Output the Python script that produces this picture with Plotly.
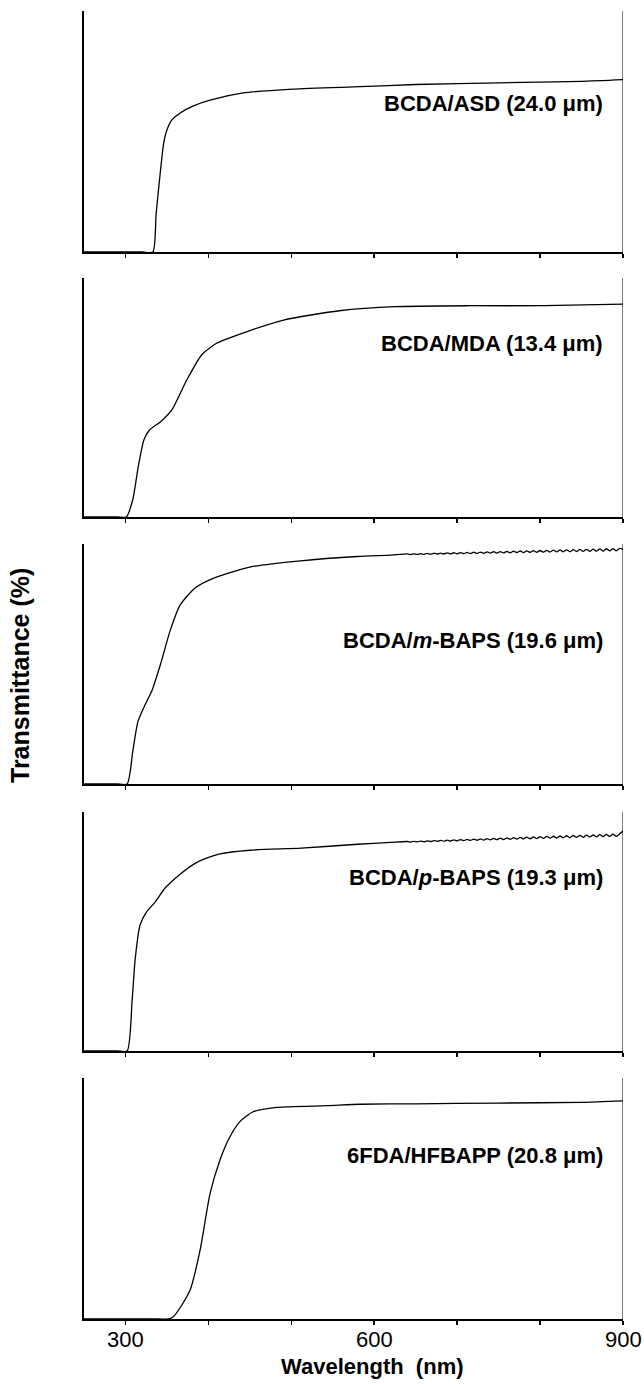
import plotly.graph_objects as go

# ---------------- data ----------------
labels = ["BCDA/ASD (24.0 μm)", "BCDA/MDA (13.4 μm)", "BCDA/<i>m</i>-BAPS (19.6 μm)",
          "BCDA/<i>p</i>-BAPS (19.3 μm)", "6FDA/HFBAPP (20.8 μm)"]

wl1 = [250, 320, 333, 337, 342, 346, 350, 356, 366, 382, 402, 442, 502, 583, 650, 750, 850, 900]
T1 = [0, 0, 0, 16, 33, 45, 50.6, 54.8, 57.7, 60.6, 63, 66, 67.6, 68.6, 69.5, 70.2, 70.8, 71.5]

wl2 = [250, 290, 301, 308.7, 315.4, 322.2, 329, 342.4, 355.9, 373.9, 391.8, 409.8, 445.8,
       490.7, 558, 625.5, 715.4, 805, 900]
T2 = [0, 0, 0, 7.1, 21, 32.2, 36.4, 39.9, 44.8, 57.3, 67.8, 72.7, 77.5,
      82.4, 86.3, 88, 88.4, 88.4, 89.1]

wl3 = [250, 290, 302, 309, 315, 323.6, 332, 342, 354, 366, 384, 408, 450, 511, 580, 620]
T3 = [0, 0, 0, 14, 26, 33, 39, 49.6, 64, 74.6, 81.7, 86, 90.4, 93, 94.8, 95.4]

wl4 = [250, 290, 302, 308, 311.6, 317.6, 325, 335.7, 347.8, 366, 384, 396, 414, 450, 512, 580, 620]
T4 = [0, 0, 0, 21, 38, 52.7, 58, 62.3, 68.2, 74, 78.5, 80.5, 82.5, 84, 84.9, 86.5, 87.3]

wl5 = [250, 340, 352, 358, 368, 378, 390, 402, 414, 426, 438, 454, 482.6, 543, 583, 650, 750, 850, 900]
T5 = [0, 0, 0, 1, 5.8, 12, 28.6, 52, 66, 75.6, 81.9, 86, 87.8, 88.5, 89.1, 89.3, 89.6, 89.9, 90.5]

# interference fringes (long-wavelength part of panels 3 and 4)
wl_fr = [640, 644, 648, 652, 656, 660, 664, 668, 672, 676, 680, 684, 688, 692, 696, 700,
         704, 708, 712, 716, 720, 724, 728, 732, 736, 740, 744, 748, 752, 756, 760, 764,
         768, 772, 776, 780, 784, 788, 792, 796, 800, 804, 808, 812, 816, 820, 824, 828,
         832, 836, 840, 844, 848, 852, 856, 860, 864, 868, 872, 876, 880, 884, 888, 892,
         896, 900]
T3_fr = [95.85, 95.57, 95.92, 95.62, 95.99, 95.67, 96.06, 95.73, 96.15, 95.78, 96.22, 95.83,
         96.29, 95.88, 96.36, 95.93, 96.43, 95.98, 96.50, 96.02, 96.58, 96.08, 96.65, 96.13,
         96.72, 96.18, 96.79, 96.23, 96.86, 96.28, 96.93, 96.33, 97.01, 96.39, 97.09, 96.44,
         97.16, 96.49, 97.23, 96.54, 97.30, 96.59, 97.37, 96.64, 97.44, 96.68, 97.52, 96.74,
         97.59, 96.79, 97.66, 96.84, 97.73, 96.89, 97.80, 96.94, 97.87, 96.99, 97.95, 97.05,
         98.03, 97.10, 98.10, 97.15, 98.17, 97.80]
T4_fr = [87.65, 87.38, 87.75, 87.46, 87.85, 87.54, 87.95, 87.62, 88.06, 87.70, 88.16, 87.78,
         88.26, 87.86, 88.36, 87.94, 88.46, 88.02, 88.56, 88.09, 88.66, 88.17, 88.76, 88.25,
         88.86, 88.33, 88.95, 88.41, 89.05, 88.49, 89.15, 88.57, 89.26, 88.65, 89.36, 88.73,
         89.46, 88.81, 89.56, 88.89, 89.66, 88.97, 89.76, 89.05, 89.86, 89.12, 89.96, 89.20,
         90.06, 89.28, 90.16, 89.36, 90.26, 89.44, 90.36, 89.52, 90.46, 89.60, 90.57, 89.68,
         90.67, 89.76, 90.77, 89.84, 90.87, 92.0]

label_T = [61.8, 72.4, 60, 72.8, 68]
label_wl = 878

tick_vals = [300, 400, 500, 600, 700, 800, 900]
tick_label_vals = [300, 600, 900]
tick_label_text = ["300", "600", "900"]

series = [(wl1, T1), (wl2, T2), (wl3 + wl_fr, T3 + T3_fr), (wl4 + wl_fr, T4 + T4_fr), (wl5, T5)]

# ---------------- layout geometry (pixels) ----------------
W, H = 644, 1384
x0, x1 = 84, 623
panels_px = [(11, 252), (278, 517), (544, 784), (812, 1051), (1078, 1319)]

FONT = "Arial, 'Liberation Sans', Helvetica, sans-serif"

fig = go.Figure()
layout = dict(
    width=W, height=H, margin=dict(l=0, r=0, t=0, b=0),
    paper_bgcolor="white", plot_bgcolor="white", showlegend=False,
    font=dict(family=FONT, color="black"),
)
annotations = []
shapes = []
for i, ((wl, T), (top, bot)) in enumerate(zip(series, panels_px)):
    n = i + 1
    xa = "x" if n == 1 else f"x{n}"
    ya = "y" if n == 1 else f"y{n}"
    fig.add_trace(go.Scatter(x=wl, y=T, mode="lines", xaxis=xa, yaxis=ya,
                             line=dict(color="black", width=1.3, shape="spline", smoothing=0.6),
                             hoverinfo="skip"))
    layout[f"xaxis{'' if n == 1 else n}"] = dict(
        domain=[x0 / W, x1 / W], range=[250, 900], anchor=ya,
        showline=True, linecolor="black", linewidth=2,
        ticks="outside", ticklen=4, tickwidth=1.5, tickcolor="black",
        tickvals=tick_vals, showticklabels=False,
        showgrid=False, zeroline=False, fixedrange=True,
    )
    layout[f"yaxis{'' if n == 1 else n}"] = dict(
        domain=[1 - bot / H, 1 - top / H], range=[0, 100], anchor=xa,
        showline=True, linecolor="black", linewidth=2, ticks="",
        showticklabels=False, showgrid=False, zeroline=False, fixedrange=True,
    )
    # right frame line
    shapes.append(dict(type="line", xref=xa, yref=f"{ya} domain", x0=900, x1=900, y0=0, y1=1,
                       line=dict(color="black", width=1)))
    annotations.append(dict(xref=xa, yref=ya, x=label_wl, y=label_T[i], text=f"<b>{labels[i]}</b>",
                            showarrow=False, xanchor="right", yanchor="middle",
                            font=dict(size=22, family=FONT, color="black")))

# tick labels of the bottom panel
for v, t in zip(tick_label_vals, tick_label_text):
    annotations.append(dict(xref="x5", yref="paper", x=v, y=1 - 1339 / H, text=t,
                            showarrow=False, xanchor="center", yanchor="middle",
                            font=dict(size=22, family=FONT, color="black")))

annotations.append(dict(xref="paper", yref="paper", x=20 / W, y=1 - 676 / H,
                        text="<b>Transmittance (%)</b>", textangle=-90, showarrow=False,
                        xanchor="center", yanchor="middle",
                        font=dict(size=25, family=FONT, color="black")))
annotations.append(dict(xref="paper", yref="paper", x=372 / W, y=1 - 1366 / H,
                        text="<b>Wavelength\u00a0\u00a0(nm)</b>", showarrow=False,
                        xanchor="center", yanchor="middle",
                        font=dict(size=22, family=FONT, color="black")))

layout["annotations"] = annotations
layout["shapes"] = shapes
fig.update_layout(**layout)
fig.write_html("out.html", config={"displayModeBar": False, "staticPlot": True},
               post_script="document.body.style.margin='0px';document.body.style.overflow='hidden';")
